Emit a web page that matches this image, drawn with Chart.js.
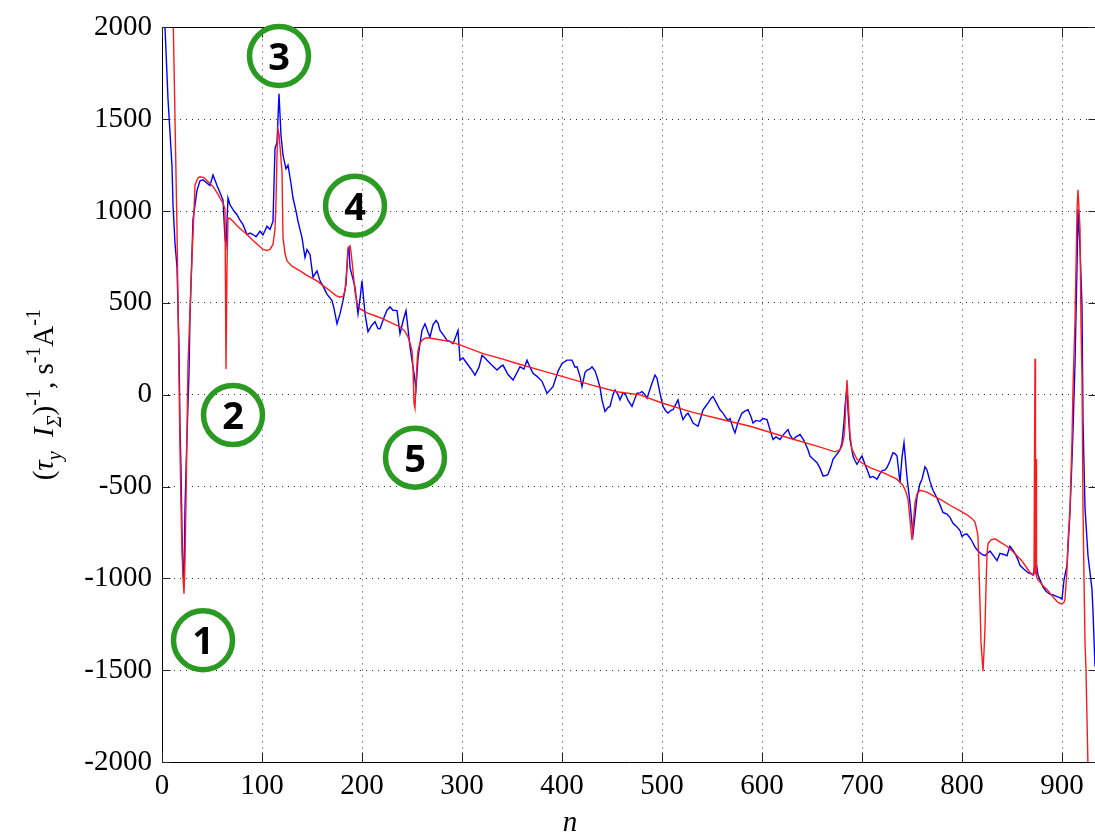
<!DOCTYPE html>
<html><head><meta charset="utf-8">
<script src="https://cdn.jsdelivr.net/npm/chart.js@4.4.1/dist/chart.umd.min.js"></script>
<style>html,body{margin:0;padding:0;background:#fff;overflow:hidden}#wrap{width:1095px;height:838px;position:relative}</style>
</head><body><div id="wrap"><canvas id="c" width="1095" height="838"></canvas></div>
<script>
const xTicks = [0,100,200,300,400,500,600,700,800,900];
const yTicks = [-2000,-1500,-1000,-500,0,500,1000,1500,2000];
const xMin = 0, xMax = 933, yMin = -2000, yMax = 2000;
const xTitle = 'n', xTitleAt = 408;

// measured (blue) series
const blueN = [0,3,6,10,11,13,15,16,17,18,19,20,21,22,23,25,27,28,30,31,35,38,41,45,48,51,55,58,61,62,63,64,66,68,72,75,78,81,85,88,91,94,98,101,105,108,111,113,115,117,119,121,124,126,129,131,134,136,140,143,145,148,151,155,158,160,165,170,172,175,178,181,184,186,187,188,190,193,196,198,200,203,206,210,213,216,218,222,225,228,231,235,238,241,244,248,251,252,254,256,258,260,263,266,268,271,274,276,278,282,285,288,291,294,296,298,301,305,309,313,317,320,323,325,330,335,338,341,346,351,355,358,362,365,368,371,375,380,385,391,396,400,405,410,413,415,418,420,423,425,428,430,433,435,438,440,443,446,448,451,453,456,458,461,463,466,470,473,475,478,480,483,485,488,490,493,495,498,501,504,506,509,511,514,516,519,521,524,526,529,531,534,536,539,541,544,546,549,551,554,558,561,563,566,568,571,573,576,580,583,586,589,591,594,598,601,605,608,611,614,618,621,626,628,631,634,638,641,643,646,648,651,655,658,661,664,666,669,671,674,676,678,680,682,683,685,686,688,691,693,695,698,700,703,705,708,711,715,718,720,723,725,728,731,733,735,738,740,742,745,748,751,753,755,758,760,763,765,768,771,775,778,781,785,788,791,795,798,800,803,805,808,810,813,816,820,823,826,828,832,835,838,842,845,848,850,853,856,858,862,866,869,871,873,874,876,879,881,884,888,891,895,898,900,902,905,908,910,911,913,915,916,918,920,921,923,926,930,931,933];
const blueY = [2080,2000,1610,1244,1034,825,694,484,249,-170,-406,-746,-981,-1008,-615,-223,118,432,772,955,1113,1165,1170,1152,1139,1196,1139,1100,1060,955,851,818,1071,1034,1000,980,950,926,872,880,872,860,890,870,917,900,944,1341,1373,1638,1412,1304,1230,1250,1150,1071,1000,944,855,747,790,764,640,674,620,602,548,512,470,386,440,512,600,790,800,693,650,586,440,520,620,440,343,380,397,360,359,420,460,478,460,458,332,400,458,262,150,116,35,197,280,350,386,340,314,380,404,390,350,320,296,290,278,320,350,188,200,170,140,107,150,215,200,188,160,134,150,161,110,80,120,152,140,188,150,116,100,73,8,44,127,170,188,188,150,152,100,44,120,134,140,152,130,98,40,-28,-91,-70,-64,0,26,0,-28,10,8,-30,-64,-20,8,10,17,0,-19,30,62,107,90,8,-64,-90,-100,-85,-82,-50,-28,-100,-136,-110,-100,-130,-154,-165,-172,-120,-82,-60,-46,-20,-10,-40,-82,-100,-118,-140,-130,-180,-208,-150,-100,-90,-82,-120,-154,-140,-145,-130,-136,-190,-244,-230,-244,-220,-190,-220,-244,-230,-217,-240,-262,-300,-334,-350,-370,-400,-442,-440,-433,-390,-352,-330,-316,-300,-262,-150,-64,44,-82,-244,-334,-360,-379,-350,-334,-380,-406,-451,-445,-460,-430,-415,-410,-397,-360,-316,-320,-334,-478,-340,-262,-450,-590,-760,-660,-556,-484,-460,-393,-410,-472,-520,-563,-600,-641,-650,-668,-700,-720,-740,-772,-760,-759,-780,-798,-830,-851,-870,-877,-860,-851,-880,-903,-864,-870,-877,-825,-840,-864,-900,-929,-950,-969,-975,-982,-930,-903,-982,-1020,-1047,-1070,-1086,-1090,-1100,-1105,-1113,-1008,-929,-641,-353,-196,170,694,1010,798,484,-144,-615,-877,-1060,-1180,-1480];

// model (red) series
const redN = [11,12,13,15,16,17,18,19,20,21,22,23,24,25,26,28,30,32,33,36,38,42,45,48,51,55,58,61,63,64,65,66,68,71,75,80,85,90,95,101,105,108,111,113,114,115,116,117,118,120,121,123,125,130,138,145,155,162,168,174,178,181,183,185,186,188,189,191,193,195,198,205,213,221,230,238,243,246,248,250,251,252,253,254,255,256,258,260,263,266,275,288,300,321,340,355,378,400,430,455,478,500,530,560,588,621,655,673,678,680,682,683,684,685,686,687,688,690,695,700,708,721,735,741,744,746,748,750,751,752,753,755,758,765,771,780,788,797,805,810,813,815,816,817,818,819,821,822,823,824,825,826,829,833,839,845,850,855,860,865,868,871,872,873,873.5,874,874.5,876,878,881,885,890,895,898,900,902,903,905,906,908,910,911,913,914,915,916,917,918,919,920,921,922,923,924,926,927];
const redY = [2100,1800,1500,900,500,100,-300,-600,-850,-1000,-1084,-900,-586,-200,170,450,750,1000,1142,1180,1187,1182,1165,1150,1133,1100,1071,1043,1010,140,700,962,960,944,920,895,872,845,820,791,785,791,818,900,1050,1300,1444,1420,1350,1214,855,770,728,700,674,650,620,590,566,540,531,535,566,700,800,810,780,674,560,500,467,445,430,413,390,370,345,315,280,242,150,-46,-73,50,170,240,280,296,308,310,302,289,267,224,195,170,134,100,52,16,-1,-45,-95,-135,-172,-226,-280,-311,-300,-278,-230,-154,-20,80,-20,-116,-220,-298,-352,-372,-397,-424,-460,-494,-530,-568,-680,-791,-720,-656,-589,-541,-521,-530,-550,-576,-602,-628,-654,-675,-694,-740,-772,-950,-1139,-1350,-1505,-1400,-1270,-1050,-877,-811,-790,-785,-805,-825,-850,-877,-905,-945,-969,-982,-975,196,-980,-350,-990,-1008,-1020,-1040,-1060,-1095,-1126,-1137,-1139,-1130,-1113,-956,-800,-615,-250,39,400,694,1000,1116,1014,903,379,100,-615,-1000,-1348,-1500,-2029,-2300];

// annotation markers (numbered circles)
const markerLabels = ['1','2','3','4','5'];
const markerN = [41,71,117,193,253];
const markerY = [-1337,-111,1844,1029,-343];

const serif = "'Liberation Serif','Times New Roman',serif";

const overlay = {
  id: 'overlay',
  afterDraw(chart) {
    const {ctx, chartArea: a, scales: {x, y}} = chart;
    const L = Math.round(a.left) + 0.5, T = Math.round(a.top) + 0.5;
    const B = Math.round(a.bottom) + 0.5, R = Math.round(a.right) + 0.5;
    ctx.save();
    ctx.strokeStyle = '#000'; ctx.lineWidth = 1;
    ctx.beginPath();
    ctx.moveTo(R + 2, T); ctx.lineTo(L, T); ctx.lineTo(L, B); ctx.lineTo(R + 2, B);
    ctx.stroke();
    ctx.strokeStyle = '#222';
    ctx.beginPath();
    xTicks.forEach(v => {
      const px = Math.round(x.getPixelForValue(v)) + 0.5;
      ctx.moveTo(px, B); ctx.lineTo(px, B - 10);
      ctx.moveTo(px, T); ctx.lineTo(px, T + 10);
    });
    yTicks.forEach(v => {
      const py = Math.round(y.getPixelForValue(v)) + 0.5;
      ctx.moveTo(L, py); ctx.lineTo(L + 8, py);
      ctx.moveTo(R + 1, py); ctx.lineTo(R - 7, py);
    });
    ctx.stroke();

    // x-axis title
    ctx.fillStyle = '#000';
    ctx.font = 'italic 29px ' + serif;
    ctx.textAlign = 'center'; ctx.textBaseline = 'alphabetic';
    ctx.fillText(xTitle, x.getPixelForValue(xTitleAt), 831);

    // numbered circles
    markerLabels.forEach((t, i) => {
      const cx = x.getPixelForValue(markerN[i]);
      const cy = y.getPixelForValue(markerY[i]);
      ctx.beginPath();
      ctx.arc(cx, cy, 29.5, 0, Math.PI * 2);
      ctx.strokeStyle = '#2a9a22'; ctx.lineWidth = 5.5;
      ctx.stroke();
      ctx.fillStyle = '#000';
      ctx.font = "bold 38px 'Open Sans','Liberation Sans',sans-serif";
      ctx.textAlign = 'center'; ctx.textBaseline = 'alphabetic';
      ctx.fillText(t, cx, cy + 14);
    });

    // y-axis title with sub/superscripts
    const parts = [
      {t: '(', f: '', s: 29, d: 0},
      {t: 'τ', f: 'italic ', s: 29, d: 0},
      {t: 'y', f: 'italic ', s: 20, d: 8},
      {t: '  ', f: '', s: 29, d: 0},
      {t: 'I', f: 'italic ', s: 29, d: 0},
      {t: 'Σ', f: 'italic ', s: 20, d: 8},
      {t: ')', f: '', s: 29, d: 0},
      {t: '-1', f: '', s: 20, d: -13},
      {t: ', s', f: '', s: 29, d: 0},
      {t: '-1', f: '', s: 20, d: -13},
      {t: 'A', f: '', s: 29, d: 0},
      {t: '-1', f: '', s: 20, d: -13}
    ];
    let total = 0;
    parts.forEach(p => { ctx.font = p.f + p.s + 'px ' + serif; p.w = ctx.measureText(p.t).width; total += p.w; });
    ctx.translate(53, (a.top + a.bottom) / 2);
    ctx.rotate(-Math.PI / 2);
    ctx.textAlign = 'left'; ctx.textBaseline = 'alphabetic'; ctx.fillStyle = '#000';
    let cx = -total / 2;
    parts.forEach(p => {
      ctx.font = p.f + p.s + 'px ' + serif;
      ctx.fillText(p.t, cx, p.d);
      cx += p.w;
    });
    ctx.restore();
  }
};

new Chart(document.getElementById('c'), {
  type: 'line',
  data: {
    datasets: [
      {label: 'model', data: redN.map((n, i) => ({x: n, y: redY[i]})), borderColor: '#ff1a1a', borderWidth: 1.4, pointRadius: 0, tension: 0, fill: false, order: 0},
      {label: 'measured', data: blueN.map((n, i) => ({x: n, y: blueY[i]})), borderColor: '#0000ff', borderWidth: 1.4, pointRadius: 0, tension: 0, fill: false, order: 1}
    ]
  },
  options: {
    responsive: false, animation: false, devicePixelRatio: 1,
    layout: {padding: {top: 21, right: 0, left: 0, bottom: 0}},
    plugins: {
      legend: {display: false}, tooltip: {enabled: false},
    },
    scales: {
      x: {
        type: 'linear', min: xMin, max: xMax,
        afterBuildTicks: s => { s.ticks = xTicks.map(v => ({value: v})); },
        afterFit: s => { s.height = 76; },
        grid: {color: '#333', lineWidth: 1, drawTicks: false},
        border: {display: false, dash: [1, 5]},
        ticks: {font: {family: serif, size: 29}, color: '#000', padding: 7, maxRotation: 0, autoSkip: false, callback: v => String(v)}
      },
      y: {
        type: 'linear', min: yMin, max: yMax,
        afterBuildTicks: s => { s.ticks = yTicks.map(v => ({value: v})); },
        afterFit: s => { s.width = 162; },
        grid: {color: '#333', lineWidth: 1, drawTicks: false},
        border: {display: false, dash: [1, 5]},
        ticks: {font: {family: serif, size: 29}, color: '#000', padding: 10, autoSkip: false, callback: v => String(v)}
      }
    }
  },
  plugins: [overlay]
});
</script></body></html>
